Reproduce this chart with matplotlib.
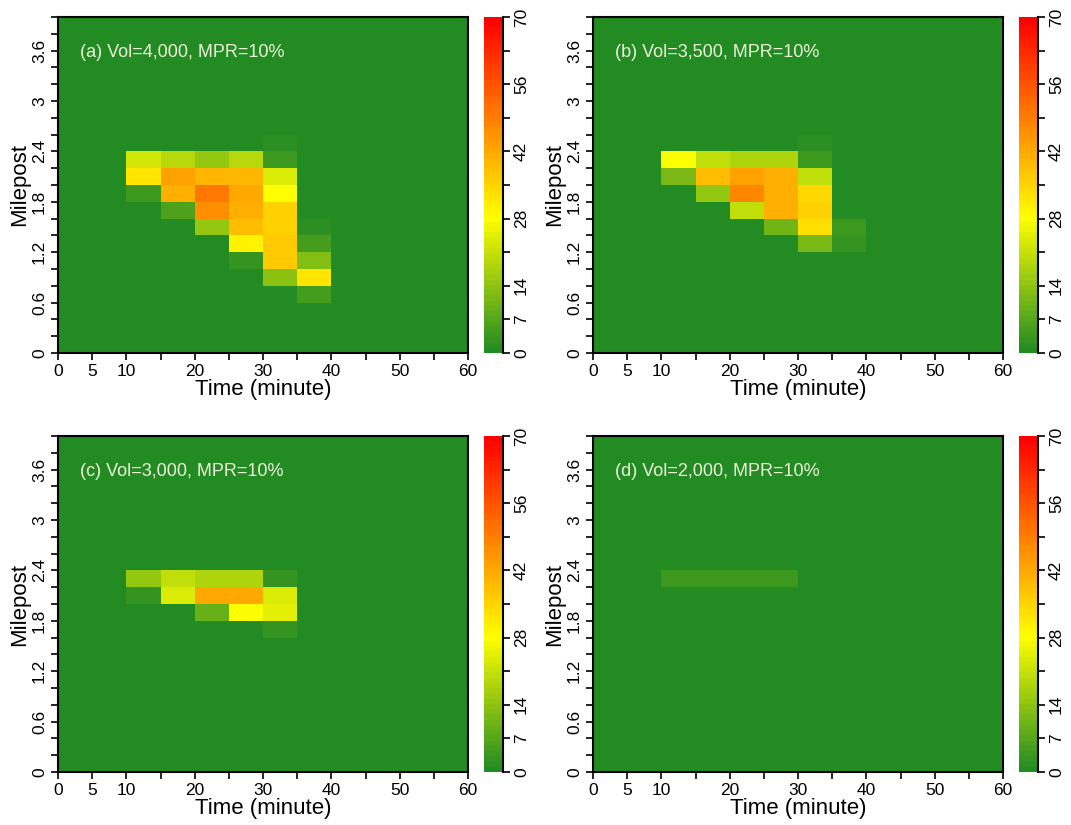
import matplotlib.pyplot as plt
import numpy as np
from matplotlib.colors import LinearSegmentedColormap

plt.rcParams['font.family'] = ['Liberation Sans', 'DejaVu Sans']

# grid: 5-minute time bins, 0.2-mile milepost bins
time_edges = np.arange(0, 61, 5)
mile_edges = np.round(np.arange(0, 4.01, 0.2), 1)

# non-zero rows of each panel, keyed by lower milepost of the row
# (12 values per row, one per 5-minute bin from 0 to 60)
rows_a = {
    2.4: [0, 0, 0, 0, 0, 0, 2, 0, 0, 0, 0, 0],
    2.2: [0, 0, 22, 19, 15, 19, 4, 0, 0, 0, 0, 0],
    2.0: [0, 0, 32, 43, 40, 40, 24, 0, 0, 0, 0, 0],
    1.8: [0, 0, 4, 41, 50, 42, 28, 0, 0, 0, 0, 0],
    1.6: [0, 0, 0, 6, 46, 41, 36, 0, 0, 0, 0, 0],
    1.4: [0, 0, 0, 0, 15, 39, 36, 2, 0, 0, 0, 0],
    1.2: [0, 0, 0, 0, 0, 30, 37, 5, 0, 0, 0, 0],
    1.0: [0, 0, 0, 0, 0, 3, 37, 13, 0, 0, 0, 0],
    0.8: [0, 0, 0, 0, 0, 0, 14, 32, 0, 0, 0, 0],
    0.6: [0, 0, 0, 0, 0, 0, 0, 5, 0, 0, 0, 0],
}
rows_b = {
    2.4: [0, 0, 0, 0, 0, 0, 2, 0, 0, 0, 0, 0],
    2.2: [0, 0, 28, 20, 18, 18, 4, 0, 0, 0, 0, 0],
    2.0: [0, 0, 12, 39, 43, 41, 20, 0, 0, 0, 0, 0],
    1.8: [0, 0, 0, 15, 48, 41, 34, 0, 0, 0, 0, 0],
    1.6: [0, 0, 0, 0, 20, 41, 35, 0, 0, 0, 0, 0],
    1.4: [0, 0, 0, 0, 0, 10, 33, 4, 0, 0, 0, 0],
    1.2: [0, 0, 0, 0, 0, 0, 11, 3, 0, 0, 0, 0],
}
rows_c = {
    2.2: [0, 0, 15, 20, 18, 18, 3, 0, 0, 0, 0, 0],
    2.0: [0, 0, 3, 23, 42, 42, 23, 0, 0, 0, 0, 0],
    1.8: [0, 0, 0, 0, 9, 28, 25, 0, 0, 0, 0, 0],
    1.6: [0, 0, 0, 0, 0, 0, 3, 0, 0, 0, 0, 0],
}
rows_d = {
    2.2: [0, 0, 4, 4, 4, 4, 0, 0, 0, 0, 0, 0],
}

panel_titles = ["(a) Vol=4,000, MPR=10%", "(b) Vol=3,500, MPR=10%",
                "(c) Vol=3,000, MPR=10%", "(d) Vol=2,000, MPR=10%"]
panel_rows = [rows_a, rows_b, rows_c, rows_d]

cbar_ticks = np.arange(0, 71, 7)
cbar_labels = ['0', '7', '14', '', '28', '', '42', '', '56', '', '70']

cmap = LinearSegmentedColormap.from_list(
    'gyr', [(0, '#228B22'), (0.4, '#FFFF00'), (1, '#FF0000')], N=64)


def build_grid(rows):
    z = np.zeros((len(mile_edges) - 1, len(time_edges) - 1))
    for lo, vals in rows.items():
        z[int(round(lo / 0.2))] = vals
    return z


fig = plt.figure(figsize=(10.71, 8.25), dpi=100)

W, H = 1071, 825
ax_w, ax_h = 410, 336
lefts = [58, 593]
bottoms = [825 - 353, 825 - 772]
cb_off = 16

positions = [(lefts[0], bottoms[0]), (lefts[1], bottoms[0]),
             (lefts[0], bottoms[1]), (lefts[1], bottoms[1])]

for (l, b), title, rows in zip(positions, panel_titles, panel_rows):
    ax = fig.add_axes([l / W, b / H, ax_w / W, ax_h / H])
    z = build_grid(rows)
    mesh = ax.pcolormesh(time_edges, mile_edges, z, cmap=cmap, vmin=0, vmax=70)
    ax.set_xlim(0, 60)
    ax.set_ylim(0, 4.0)

    ax.set_xticks(np.arange(0, 61, 5))
    ax.set_xticklabels(['0', '5', '10', '', '20', '', '30', '', '40', '', '50', '', '60'])
    yt = np.round(np.arange(0, 4.01, 0.2), 1)
    ylabels = []
    for v in yt:
        k = int(round(v / 0.2))
        if k % 3 == 0 and v < 4.0:
            ylabels.append('%g' % v)
        else:
            ylabels.append('')
    ax.set_yticks(yt)
    ax.set_yticklabels(ylabels, rotation=90, va='center')
    ax.tick_params(direction='out', length=5, width=1.2, labelsize=12.5, pad=3)
    for s in ax.spines.values():
        s.set_linewidth(1.5)

    ax.set_xlabel('Time (minute)', fontsize=16, labelpad=0)
    ax.set_ylabel('Milepost', fontsize=16, labelpad=1)
    ax.text(3.2, 3.58, title, color='#eef2dc', fontsize=13, va='center', ha='left')

    cax = fig.add_axes([(l + ax_w + cb_off) / W, b / H, 19 / W, ax_h / H])
    cb = fig.colorbar(mesh, cax=cax, ticks=cbar_ticks)
    cb.outline.set_visible(False)
    cax.axvline(1, color='black', lw=1.5, clip_on=False)
    cax.set_yticklabels(cbar_labels, rotation=90, va='center')
    cax.tick_params(direction='out', length=5, width=1.2, labelsize=12.5, pad=3)

fig.savefig('out.png', dpi=100)
